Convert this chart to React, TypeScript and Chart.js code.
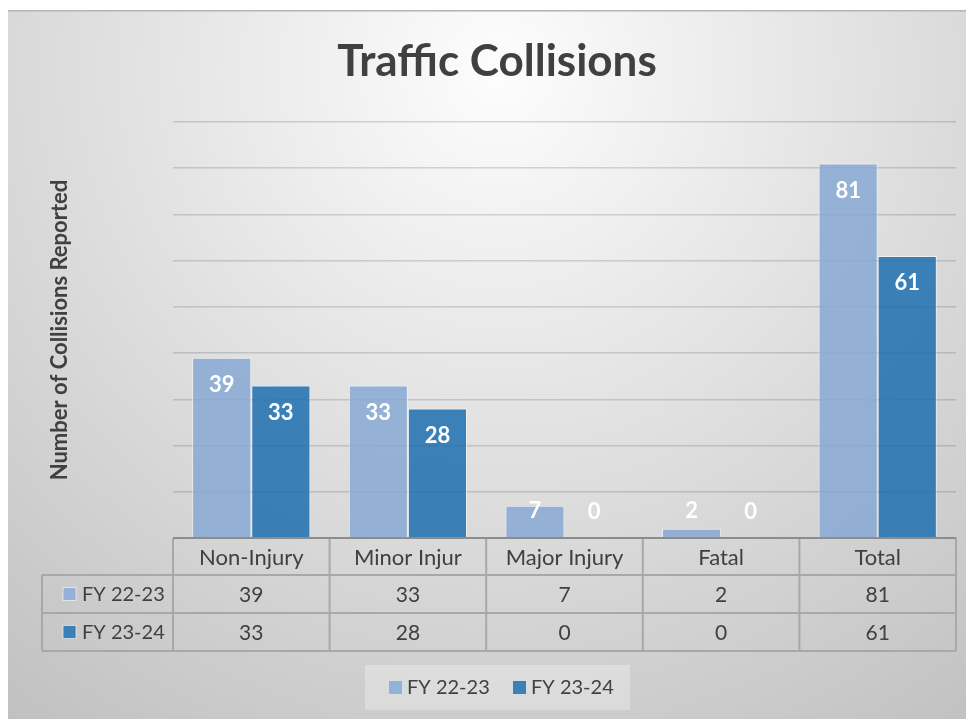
import React, { useEffect, useRef } from "react";
import { Chart, registerables } from "chart.js";

Chart.register(...registerables);

const categories = ["Non-Injury", "Minor Injur", "Major Injury", "Fatal", "Total"];
const seriesNames = ["FY 22-23", "FY 23-24"];
const fy2223 = [39, 33, 7, 2, 81];
const fy2324 = [33, 28, 0, 0, 61];
const yMax = 90;
const yStep = 10;

const FONT = "Lato, 'Open Sans', sans-serif";
const TEXT = "#404040";
const LIGHT = "rgba(135,169,211,0.85)";
const DARK = "rgba(29,112,176,0.85)";
const LIGHT_SOLID = "#94b2d7";
const DARK_SOLID = "#3b80b7";

const decorPlugin = {
  id: "decor",
  beforeDraw(chart: any) {
    const { ctx, width, height } = chart;
    ctx.save();
    const g = ctx.createRadialGradient(490, 60, 0, 490, 60, 820);
    g.addColorStop(0, "#fdfdfd");
    g.addColorStop(1, "#c0c0c0");
    ctx.fillStyle = g;
    ctx.fillRect(0, 0, width, height);
    ctx.strokeStyle = "#b4b4b4";
    ctx.lineWidth = 1.5;
    ctx.beginPath();
    ctx.moveTo(0, 0.75);
    ctx.lineTo(width, 0.75);
    ctx.stroke();
    ctx.restore();
  },
  afterDraw(chart: any) {
    const { ctx, chartArea } = chart;
    const xs = chart.scales.x;
    const n = categories.length;
    const left = chartArea.left;
    const right = chartArea.right;
    const catW = (right - left) / n;
    const base = chartArea.bottom;
    const rowH = [37, 38, 38];
    const r0 = base;
    const r1 = r0 + rowH[0];
    const r2 = r1 + rowH[1];
    const r3 = r2 + rowH[2];
    const legLeft = 34;

    ctx.save();
    // title
    ctx.fillStyle = TEXT;
    ctx.font = `bold 44px ${FONT}`;
    ctx.textAlign = "center";
    ctx.textBaseline = "middle";
    ctx.fillText("Traffic Collisions", 489, 52);

    // y axis title
    ctx.save();
    ctx.translate(52, (chartArea.top + chartArea.bottom) / 2);
    ctx.rotate(-Math.PI / 2);
    ctx.font = `bold 22px ${FONT}`;
    ctx.fillText("Number of Collisions Reported", 0, 0);
    ctx.restore();

    // table lines
    ctx.strokeStyle = "#a8a8a8";
    ctx.lineWidth = 2;
    ctx.beginPath();
    for (const y of [r1, r2, r3]) {
      ctx.moveTo(legLeft, y);
      ctx.lineTo(right, y);
    }
    for (let i = 0; i <= n; i++) {
      const x = left + i * catW;
      ctx.moveTo(x, r0);
      ctx.lineTo(x, r3);
    }
    ctx.moveTo(legLeft, r1);
    ctx.lineTo(legLeft, r3);
    ctx.stroke();

    // axis baseline
    ctx.strokeStyle = "#8c8c8c";
    ctx.lineWidth = 2;
    ctx.beginPath();
    ctx.moveTo(left, base);
    ctx.lineTo(right, base);
    ctx.stroke();

    // table text
    ctx.fillStyle = TEXT;
    ctx.textAlign = "center";
    ctx.textBaseline = "middle";
    categories.forEach((c, i) => {
      const cx = xs.getPixelForValue(i);
      ctx.font = `22px ${FONT}`;
      ctx.fillText(c, cx, (r0 + r1) / 2 + 1);
      ctx.font = `21px ${FONT}`;
      ctx.fillText(String(fy2223[i]), cx, (r1 + r2) / 2 + 1);
      ctx.fillText(String(fy2324[i]), cx, (r2 + r3) / 2 + 1);
    });
    // row headers
    ctx.font = `20px ${FONT}`;
    const rows = [
      { name: seriesNames[0], c: LIGHT_SOLID, y: (r1 + r2) / 2 },
      { name: seriesNames[1], c: DARK_SOLID, y: (r2 + r3) / 2 },
    ];
    ctx.textAlign = "left";
    rows.forEach((r) => {
      ctx.fillStyle = r.c;
      ctx.fillRect(55, r.y - 6.5, 13, 13);
      ctx.strokeStyle = "rgba(255,255,255,0.6)";
      ctx.lineWidth = 1;
      ctx.strokeRect(55, r.y - 6.5, 13, 13);
      ctx.fillStyle = TEXT;
      ctx.fillText(r.name, 74, r.y + 1);
    });

    // legend box
    ctx.fillStyle = "rgba(255,255,255,0.28)";
    ctx.fillRect(357, 655, 265, 45);
    const legItems = [
      { name: seriesNames[0], c: LIGHT_SOLID, x: 381 },
      { name: seriesNames[1], c: DARK_SOLID, x: 505 },
    ];
    legItems.forEach((l) => {
      ctx.fillStyle = l.c;
      ctx.fillRect(l.x, 671, 13, 13);
      ctx.fillStyle = TEXT;
      ctx.fillText(l.name, l.x + 18, 678);
    });

    ctx.restore();
  },
  afterDatasetsDraw(chart: any) {
    const { ctx } = chart;
    ctx.save();
    ctx.fillStyle = "#ffffff";
    ctx.font = `bold 22px ${FONT}`;
    ctx.textAlign = "center";
    ctx.textBaseline = "middle";
    chart.data.datasets.forEach((ds: any, di: number) => {
      const meta = chart.getDatasetMeta(di);
      meta.data.forEach((el: any, i: number) => {
        const y = Math.min(el.y + 27, el.base - 26);
        ctx.fillText(String(ds.data[i]), el.x, y);
      });
    });
    ctx.restore();
  },
};

export default function App() {
  const ref = useRef<HTMLCanvasElement>(null);
  useEffect(() => {
    if (!ref.current) return;
    const chart = new Chart(ref.current, {
      type: "bar",
      data: {
        labels: categories,
        datasets: [
          {
            label: seriesNames[0],
            data: fy2223,
            backgroundColor: LIGHT,
            borderColor: "rgba(255,255,255,0.55)",
            borderWidth: 1,
          },
          {
            label: seriesNames[1],
            data: fy2324,
            backgroundColor: DARK,
            borderColor: "rgba(255,255,255,0.55)",
            borderWidth: 1,
          },
        ],
      },
      options: {
        responsive: false,
        animation: false,
        layout: { padding: { left: 165, right: 18, top: 112, bottom: 181 } },
        datasets: { bar: { barPercentage: 1, categoryPercentage: 0.755 } },
        plugins: {
          legend: { display: false },
          title: { display: false },
          tooltip: { enabled: false },
        },
        scales: {
          x: {
            display: false,
          },
          y: {
            min: 0,
            max: yMax,
            ticks: { display: false, stepSize: yStep },
            border: { display: false },
            grid: { color: "rgba(0,0,0,0.14)", lineWidth: 1.6, drawTicks: false },
          },
        },
      },
      plugins: [decorPlugin],
    });
    return () => chart.destroy();
  }, []);
  return (
    <div style={{ marginTop: 2, width: 966, height: 709 }}>
      <canvas ref={ref} width={966} height={709} />
    </div>
  );
}
